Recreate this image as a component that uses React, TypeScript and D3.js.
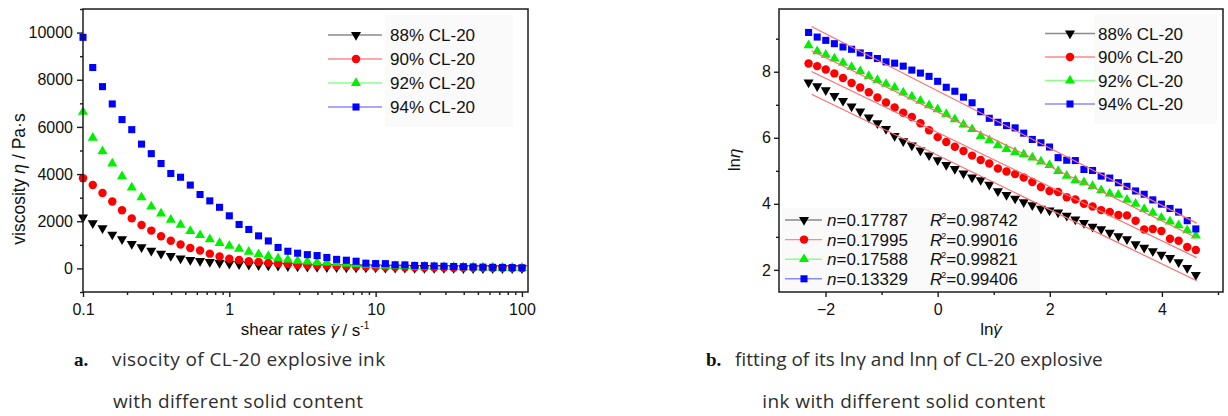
import React, { useEffect, useRef } from 'react';
import * as d3 from 'd3';

// shear rates in s^-1 (15 points per decade, 0.1 to 100)
const shearRates = [
  0.1, 0.1166, 0.1359, 0.1585, 0.1848, 0.2154, 0.2512, 0.2929, 0.3415, 0.3981,
  0.4642, 0.5412, 0.631, 0.7356, 0.8577, 1, 1.166, 1.359, 1.585, 1.848,
  2.154, 2.512, 2.929, 3.415, 3.981, 4.642, 5.412, 6.31, 7.356, 8.577,
  10, 11.66, 13.59, 15.85, 18.48, 21.54, 25.12, 29.29, 34.15, 39.81,
  46.42, 54.12, 63.1, 73.56, 85.77, 100,
];

// ln(viscosity) of each ink
const lnEta88 = [
  7.68, 7.56, 7.44, 7.27, 7.12, 6.95, 6.80, 6.62, 6.44, 6.27,
  6.06, 5.90, 5.77, 5.62, 5.47, 5.32, 5.18, 5.06, 4.92, 4.80,
  4.72, 4.58, 4.38, 4.27, 4.16, 4.05, 3.96, 3.85, 3.80, 3.74,
  3.64, 3.53, 3.42, 3.31, 3.23, 3.13, 3.02, 2.93, 2.78, 2.67,
  2.57, 2.46, 2.36, 2.23, 2.06, 1.85,
];
const lnEta90 = [
  8.25, 8.17, 8.07, 7.95, 7.81, 7.66, 7.52, 7.38, 7.22, 7.07,
  6.92, 6.76, 6.63, 6.44, 6.23, 6.02, 5.87, 5.73, 5.60, 5.46,
  5.33, 5.22, 5.07, 4.98, 4.90, 4.80, 4.66, 4.51, 4.39, 4.36,
  4.20, 4.13, 4.00, 3.92, 3.81, 3.75, 3.66, 3.65, 3.49, 3.22,
  3.24, 3.18, 2.94, 2.88, 2.69, 2.60,
];
const lnEta92 = [
  8.80, 8.62, 8.51, 8.40, 8.27, 8.14, 8.01, 7.87, 7.75, 7.63,
  7.52, 7.37, 7.25, 7.12, 6.98, 6.86, 6.72, 6.56, 6.40, 6.26,
  6.05, 5.92, 5.77, 5.66, 5.57, 5.50, 5.40, 5.28, 5.17, 4.99,
  4.85, 4.71, 4.65, 4.54, 4.41, 4.31, 4.27, 4.12, 4.00, 3.84,
  3.73, 3.58, 3.46, 3.35, 3.20, 3.04,
];
const lnEta94 = [
  9.19, 9.05, 8.95, 8.85, 8.75, 8.68, 8.57, 8.49, 8.40, 8.30,
  8.26, 8.17, 8.05, 7.96, 7.86, 7.71, 7.53, 7.41, 7.23, 7.06,
  6.79, 6.59, 6.47, 6.37, 6.30, 6.14, 5.95, 5.85, 5.72, 5.40,
  5.32, 5.31, 5.04, 5.01, 4.84, 4.78, 4.64, 4.53, 4.39, 4.29,
  4.12, 3.99, 3.86, 3.75, 3.49, 3.24,
];

const seriesLabels = ["88% CL-20", "90% CL-20", "92% CL-20", "94% CL-20"];
const markerColors = ["#000000", "#ff0000", "#00f000", "#0000ff"];
const lineColors = ["#8a8a8a", "#ff8a8a", "#8aff8a", "#8a8aff"];
const markerTypes = ["down", "circle", "up", "square"];

// power law fit: ln(eta) = lnK + (n - 1) ln(gamma)
const fitN = ["0.17787", "0.17995", "0.17588", "0.13329"];
const fitR2 = ["0.98742", "0.99016", "0.99821", "0.99406"];
const fitLnK = [5.47, 6.16, 6.78, 7.42];

const viscosityTicks = [0, 2000, 4000, 6000, 8000, 10000];
const viscosityMinor = [-1000, 1000, 3000, 5000, 7000, 9000, 11000];
const shearTicks = [0.1, 1, 10, 100];
const shearMinor = [0.2, 0.3, 0.4, 0.5, 0.6, 0.7, 0.8, 0.9, 2, 3, 4, 5, 6, 7, 8, 9, 20, 30, 40, 50, 60, 70, 80, 90];
const lnGammaTicks = [-2, 0, 2, 4];
const lnGammaMinor = [-1, 1, 3, 5];
const lnEtaTicks = [2, 4, 6, 8];
const lnEtaMinor = [3, 5, 7, 9];

const FONT = '"Liberation Sans", Arial, sans-serif';
const CAPTION_FONT = '"Open Sans", Lato, sans-serif';
const INK = "#1c1c1c";
const BOX = "#fafafa";

const symbolPath = (t) => {
  const type = t === "circle" ? d3.symbolCircle : t === "square" ? d3.symbolSquare : d3.symbolTriangle;
  const size = t === "circle" ? 56 : t === "square" ? 50 : 44;
  return d3.symbol().type(type).size(size)();
};
const markerTransform = (t, x, y) => `translate(${x},${y})${t === "down" ? " rotate(180)" : ""}`;

const styleAxis = (g) => {
  g.select(".domain").remove();
  g.selectAll("line").attr("stroke", INK).attr("stroke-width", 1.4);
  g.selectAll("text").attr("fill", "#111").style("font-size", "16px").style("font-family", FONT);
};

// italic gamma with an overdot (shear rate symbol)
const addGammaDot = (text) => {
  text.append("tspan").attr("font-style", "italic").text("\u03B3");
  text.append("tspan").attr("dx", -7).attr("dy", 1).text("\u02D9");
  text.append("tspan").attr("dx", 1).attr("dy", -1).text("");
};

const App = () => {
  const svgRef = useRef(null);

  useEffect(() => {
    document.body.style.margin = "0";
    const svg = d3.select(svgRef.current);
    svg.selectAll("*").remove();
    const series = [lnEta88, lnEta90, lnEta92, lnEta94];

    // ---------- panel a: viscosity vs shear rate ----------
    const xA = d3.scaleLog().domain([0.1, 110]).range([83, 528]);
    const yA = d3.scaleLinear().domain([-1000, 11000]).range([292, 9]);
    const gA = svg.append("g");

    gA.append("rect").attr("x", 385).attr("y", 15).attr("width", 128).attr("height", 112).attr("fill", BOX);

    series.forEach((vals, s) => {
      gA.append("g").selectAll("path").data(vals).join("path")
        .attr("d", symbolPath(markerTypes[s]))
        .attr("fill", markerColors[s])
        .attr("transform", (v, i) => markerTransform(markerTypes[s], xA(shearRates[i]), yA(Math.exp(v))));
    });

    gA.append("g").attr("transform", "translate(0,292)")
      .call(d3.axisBottom(xA).tickValues(shearMinor).tickSize(3).tickFormat(() => "")).call(styleAxis);
    gA.append("g").attr("transform", "translate(0,292)")
      .call(d3.axisBottom(xA).tickValues(shearTicks).tickSize(5).tickPadding(7).tickFormat(d => (d < 1 ? "0.1" : String(d)))).call(styleAxis);
    gA.append("g").attr("transform", "translate(83,0)")
      .call(d3.axisLeft(yA).tickValues(viscosityMinor).tickSize(3).tickFormat(() => "")).call(styleAxis);
    gA.append("g").attr("transform", "translate(83,0)")
      .call(d3.axisLeft(yA).tickValues(viscosityTicks).tickSize(6).tickPadding(4).tickFormat(d3.format("d"))).call(styleAxis);

    gA.append("rect").attr("x", 83).attr("y", 9).attr("width", 445).attr("height", 283)
      .attr("fill", "none").attr("stroke", INK).attr("stroke-width", 1.5);

    // axis titles
    const xtA = gA.append("text").attr("x", 305).attr("y", 335).attr("text-anchor", "middle")
      .style("font-family", FONT).style("font-size", "17px").attr("fill", "#111");
    xtA.append("tspan").text("shear rates ");
    addGammaDot(xtA);
    xtA.append("tspan").text(" / s");
    xtA.append("tspan").attr("dy", -7).style("font-size", "10px").text("-1");

    const ytA = gA.append("text").attr("transform", "translate(25,179) rotate(-90)").attr("text-anchor", "middle")
      .style("font-family", FONT).style("font-size", "17.5px").attr("fill", "#111");
    ytA.append("tspan").text("viscosity ");
    ytA.append("tspan").attr("font-style", "italic").text("\u03B7");
    ytA.append("tspan").text(" / Pa\u00B7s");

    // legend
    seriesLabels.forEach((label, s) => {
      const ry = 35 + s * 24;
      gA.append("line").attr("x1", 328).attr("x2", 382).attr("y1", ry).attr("y2", ry)
        .attr("stroke", lineColors[s]).attr("stroke-width", 1.4);
      gA.append("path").attr("d", symbolPath(markerTypes[s])).attr("fill", markerColors[s])
        .attr("transform", markerTransform(markerTypes[s], 356, ry));
      gA.append("text").attr("x", 390).attr("y", ry + 6).text(label)
        .style("font-family", FONT).style("font-size", "17px").attr("fill", "#111");
    });

    // ---------- panel b: ln(eta) vs ln(gamma) ----------
    const xB = d3.scaleLinear().domain([-2.83, 5.09]).range([779, 1223]);
    const yB = d3.scaleLinear().domain([1.33, 9.9]).range([292, 9]);
    const gB = svg.append("g");

    gB.append("rect").attr("x", 1094).attr("y", 14).attr("width", 123).attr("height", 110).attr("fill", BOX);
    gB.append("rect").attr("x", 782).attr("y", 208).attr("width", 258).attr("height", 82).attr("fill", BOX);

    series.forEach((vals, s) => {
      gB.append("g").selectAll("path").data(vals).join("path")
        .attr("d", symbolPath(markerTypes[s]))
        .attr("fill", markerColors[s])
        .attr("transform", (v, i) => markerTransform(markerTypes[s], xB(Math.log(shearRates[i])), yB(v)));
    });

    const fitFrom = -2.25;
    const fitTo = 4.62;
    fitN.forEach((n, s) => {
      const slope = parseFloat(n) - 1;
      const pts = [fitFrom, fitTo].map(lg => [xB(lg), yB(fitLnK[s] + slope * lg)]);
      gB.append("path").attr("d", d3.line()(pts)).attr("fill", "none")
        .attr("stroke", "#ff6e6e").attr("stroke-width", 1.2);
    });

    gB.append("g").attr("transform", "translate(0,292)")
      .call(d3.axisBottom(xB).tickValues(lnGammaMinor).tickSize(3).tickFormat(() => "")).call(styleAxis);
    gB.append("g").attr("transform", "translate(0,292)")
      .call(d3.axisBottom(xB).tickValues(lnGammaTicks).tickSize(5).tickPadding(7).tickFormat(d3.format("d"))).call(styleAxis);
    gB.append("g").attr("transform", "translate(779,0)")
      .call(d3.axisLeft(yB).tickValues(lnEtaMinor).tickSize(3).tickFormat(() => "")).call(styleAxis);
    gB.append("g").attr("transform", "translate(779,0)")
      .call(d3.axisLeft(yB).tickValues(lnEtaTicks).tickSize(5).tickPadding(3).tickFormat(d3.format("d"))).call(styleAxis);

    gB.append("rect").attr("x", 779).attr("y", 9).attr("width", 444).attr("height", 283)
      .attr("fill", "none").attr("stroke", INK).attr("stroke-width", 1.5);

    const xtB = gB.append("text").attr("x", 991).attr("y", 335).attr("text-anchor", "middle")
      .style("font-family", FONT).style("font-size", "17px").attr("fill", "#111");
    xtB.append("tspan").text("ln");
    addGammaDot(xtB);

    const ytB = gB.append("text").attr("transform", "translate(740,160) rotate(-90)").attr("text-anchor", "middle")
      .style("font-family", FONT).style("font-size", "17px").attr("fill", "#111");
    ytB.append("tspan").text("ln");
    ytB.append("tspan").attr("font-style", "italic").text("\u03B7");

    // series legend
    seriesLabels.forEach((label, s) => {
      const ry = 33.5 + s * 23.5;
      gB.append("line").attr("x1", 1045).attr("x2", 1095).attr("y1", ry).attr("y2", ry)
        .attr("stroke", lineColors[s]).attr("stroke-width", 1.4);
      gB.append("path").attr("d", symbolPath(markerTypes[s])).attr("fill", markerColors[s])
        .attr("transform", markerTransform(markerTypes[s], 1070, ry));
      gB.append("text").attr("x", 1098).attr("y", ry + 6).text(label)
        .style("font-family", FONT).style("font-size", "17px").attr("fill", "#111");
    });

    // fit legend
    fitN.forEach((n, s) => {
      const ry = 220 + s * 19.6;
      gB.append("line").attr("x1", 785).attr("x2", 822).attr("y1", ry).attr("y2", ry)
        .attr("stroke", lineColors[s]).attr("stroke-width", 1.4);
      gB.append("path").attr("d", symbolPath(markerTypes[s])).attr("fill", markerColors[s])
        .attr("transform", markerTransform(markerTypes[s], 804, ry));
      const tn = gB.append("text").attr("x", 827).attr("y", ry + 6)
        .style("font-family", FONT).style("font-size", "17px").attr("fill", "#111");
      tn.append("tspan").attr("font-style", "italic").text("n");
      tn.append("tspan").text("=" + n);
      const tr = gB.append("text").attr("x", 930).attr("y", ry + 6)
        .style("font-family", FONT).style("font-size", "17px").attr("fill", "#111");
      tr.append("tspan").attr("font-style", "italic").text("R");
      tr.append("tspan").attr("dy", -7).attr("dx", -1).style("font-size", "9px").text("2");
      tr.append("tspan").attr("dy", 7).text("=" + fitR2[s]);
    });

    // ---------- captions ----------
    const cap = svg.append("g").attr("fill", "#2e2e2e").style("font-family", CAPTION_FONT)
      .style("font-size", "19px").style("letter-spacing", "0.4px");
    cap.append("text").attr("x", 74).attr("y", 366).attr("fill", "#111").style("letter-spacing", "0px")
      .style("font-family", '"Liberation Serif", serif').style("font-weight", "bold").text("a.");
    cap.append("text").attr("x", 112).attr("y", 366).text("visocity of CL-20 explosive ink");
    cap.append("text").attr("x", 113).attr("y", 408).text("with different solid content");
    cap.append("text").attr("x", 706).attr("y", 366).attr("fill", "#111").style("letter-spacing", "0px")
      .style("font-family", '"Liberation Serif", serif').style("font-weight", "bold").text("b.");
    cap.append("text").attr("x", 735).attr("y", 366).style("letter-spacing", "0px")
      .text("fitting of its ln\u03B3 and ln\u03B7 of CL-20 explosive");
    cap.append("text").attr("x", 904).attr("y", 408).attr("text-anchor", "middle").text("ink with different solid content");
  }, []);

  return (
    <svg ref={svgRef} width={1228} height={416} style={{ display: 'block', background: '#fff' }}></svg>
  );
};

export default App;
